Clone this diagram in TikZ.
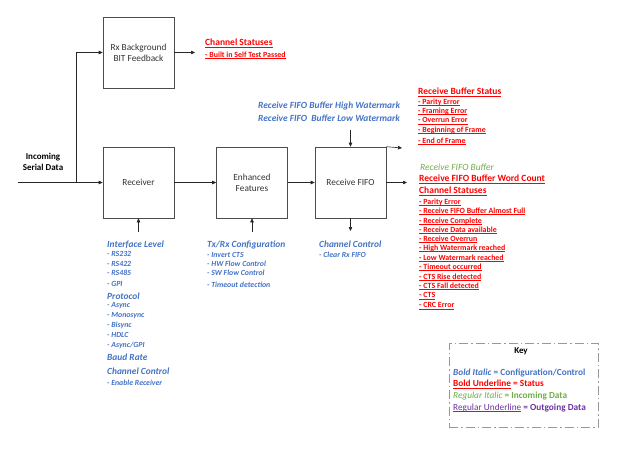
\documentclass[tikz,border=0pt]{standalone}
\usepackage{fontspec}
\setmainfont{Carlito}
\usetikzlibrary{arrows.meta}
\definecolor{cfgblue}{HTML}{4472C4}
\definecolor{statred}{HTML}{FF0000}
\definecolor{ingreen}{HTML}{70AD47}
\definecolor{outpurple}{HTML}{7030A0}
\newcommand{\myul}[1]{\setbox0\hbox{#1}\rlap{\rule[-0.17em]{\wd0}{0.06em}}\box0\relax}
\begin{document}
\begin{tikzpicture}[x=1pt,y=-1pt,
  blk/.style={draw=black!70, line width=0.6pt, minimum width=71pt, minimum height=71pt, inner sep=0, align=center, font=\fontsize{9.3}{11}\selectfont, text=black!80},
  conn/.style={draw=black!85, line width=0.6pt},
  arr/.style={conn, -{Triangle[length=4pt,width=3.5pt]}},
  lbl/.style={anchor=west, inner sep=0},
  cfghd/.style={lbl, text=cfgblue, font=\fontsize{9.4}{10}\selectfont\bfseries\itshape},
  cfgit/.style={lbl, text=cfgblue, font=\fontsize{7.8}{8}\selectfont\bfseries\itshape},
  sthd/.style={lbl, text=statred, font=\fontsize{9.5}{10}\selectfont\bfseries},
  stit/.style={lbl, text=statred, font=\fontsize{7.9}{8}\selectfont\bfseries},
  keyln/.style={lbl, font=\fontsize{9.3}{10}\selectfont},
]
\useasboundingbox (0,0) rectangle (625,474);

% blocks
\node[blk] (rxbg) at (138.5,52.5) {Rx Background\\BIT Feedback};
\node[blk] (rcv) at (138.5,182.5) {Receiver};
\node[blk] (enh) at (252,182.5) {Enhanced\\Features};
\node[blk] (fifo) at (350.5,182.5) {Receive FIFO};

% incoming
\node[inner sep=0, align=center, font=\fontsize{9}{10.5}\selectfont\bfseries] (inc) at (43,162) {Incoming\\Serial Data};
\coordinate (in) at (18,182.5);
\coordinate (j) at (76,182.5);
\draw[arr] (in) -- (rcv.west);
\draw[arr] (j) |- (rxbg.west);
\coordinate (bgout) at (195,52.5);
\draw[arr] (rxbg.east) -- (bgout);
\draw[arr] (rcv.east) -- (enh.west);
\draw[arr] (enh.east) -- (fifo.west);
\coordinate (fout) at (407,182.5);
\draw[arr] (fifo.east) -- (fout);
\coordinate (fdiag) at (402,148);
\draw[arr] (fifo.north east) -- (fdiag);
\coordinate (ftop) at (350.5,130);
\draw[arr] (ftop) -- (fifo.north);
\coordinate (fbot) at (350.5,231);
\draw[arr] (fifo.south) -- (fbot);
\coordinate (rbot) at (138.5,232);
\draw[arr] (rbot) -- (rcv.south);
\coordinate (ebot) at (252,232);
\draw[arr] (ebot) -- (enh.south);

% BIT statuses
\node[sthd] (cs1) at (205,43) {\myul{Channel Statuses}};
\node[stit] (cs1a) at (205,55) {\myul{- Built in Self Test Passed}};

% watermark
\node[cfghd] (wm1) at (258,106) {Receive FIFO Buffer High Watermark};
\node[cfghd] (wm2) at (258,118) {Receive FIFO\ \ Buffer Low Watermark};

% receive buffer status
\node[sthd] (rbs) at (418,92) {\myul{Receive Buffer Status}};
\foreach \t/\y [count=\i] in {Parity Error/102, Framing Error/111.5, Overrun Error/121, Beginning of Frame/130, End of Frame/141}
  \node[stit] (rbs\i) at (418,\y) {\myul{- \t}};

% FIFO outputs
\node[lbl, text=ingreen, font=\fontsize{9.5}{10}\selectfont\itshape] (rfb) at (420,167) {Receive FIFO Buffer};
\node[sthd] (wc) at (419,179) {\myul{Receive FIFO Buffer Word Count}};
\node[sthd] (cs2) at (419,191) {\myul{Channel Statuses}};
\foreach \t/\y [count=\i] in {Parity Error/202, Receive FIFO Buffer Almost Full/211, Receive Complete/221, Receive Data available/230, Receive Overrun/239, High Watermark reached/248.5, Low Watermark reached/258, Timeout occurred/267, CTS Rise detected/277, CTS Fall detected/286, CTS/296, CRC Error/306}
  \node[stit] (cs2\i) at (419,\y) {\myul{- \t}};

% receiver config
\node[cfghd] (il) at (107,245) {Interface Level};
\foreach \t/\y [count=\i] in {RS232/254, RS422/263.5, RS485/273, GPI/284}
  \node[cfgit] (il\i) at (107,\y) {- \t};
\node[cfghd] (pr) at (107,296) {Protocol};
\foreach \t/\y [count=\i] in {Async/306, Monosync/316, Bisync/325, HDLC/335}
  \node[cfgit] (pr\i) at (107,\y) {- \t};
\node[cfgit] (pr5) at (107,345) {- Async/GPI};
\node[cfghd] (br) at (107,357) {Baud Rate};
\node[cfghd] (cc1) at (107,371) {Channel Control};
\node[cfgit] (cc1a) at (107,383) {- Enable Receiver};

% enhanced config
\node[cfghd] (tx) at (207,245) {Tx/Rx Configuration};
\foreach \t/\y [count=\i] in {Invert CTS/255, HW Flow Control/264, SW Flow Control/273, Timeout detection/285}
  \node[cfgit] (tx\i) at (207,\y) {- \t};

% fifo config
\node[cfghd] (cc2) at (319,244) {Channel Control};
\node[cfgit] (cc2a) at (319,255) {- Clear Rx FIFO};

% key
\node[draw=black!40, line width=1pt, dash pattern=on 9pt off 3pt on 1.5pt off 3pt, minimum width=149pt, minimum height=84pt, inner sep=0] (key) at (523.5,385) {};
\node[inner sep=0, font=\fontsize{9}{10}\selectfont\bfseries] (keyt) at (521,351) {Key};
\node[keyln, text=cfgblue] (k1) at (453,373) {\textbf{\textit{Bold Italic}} \textbf{= Configuration/Control}};
\node[keyln, text=statred] (k2) at (453,384.5) {\textbf{\myul{Bold Underline}} \textbf{= Status}};
\node[keyln, text=ingreen] (k3) at (453,396) {\textit{Regular Italic} \textbf{= Incoming Data}};
\node[keyln, text=outpurple] (k4) at (453,408) {\myul{Regular Underline} \textbf{= Outgoing Data}};
\end{tikzpicture}
\end{document}
